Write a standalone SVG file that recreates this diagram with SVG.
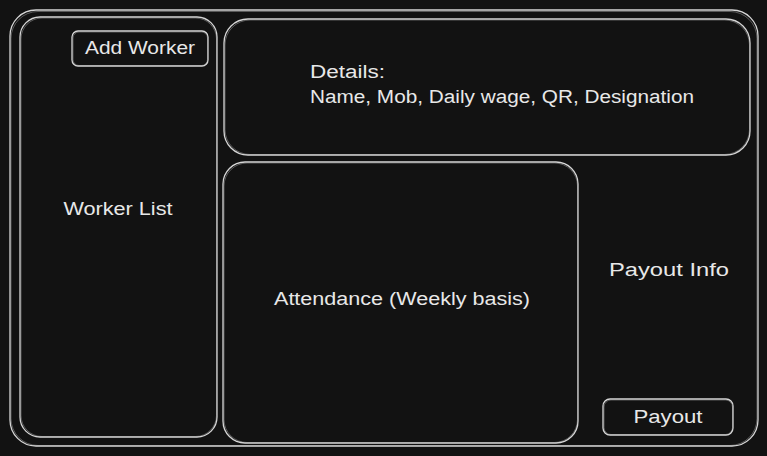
<svg xmlns="http://www.w3.org/2000/svg" width="767" height="456" viewBox="0 0 767 456">
  <style>
    .box { fill: none; stroke: #d6d6d6; stroke-width: 1.3; stroke-linejoin: round; }
    .ghost { fill: none; stroke: #bdbdbd; stroke-width: 0.7; opacity: 0.6; }
    .lbl { fill: #e8e8e8; font-family: "Liberation Sans", "DejaVu Sans", sans-serif; font-size: 18px; }
  </style>
  <rect x="0" y="0" width="767" height="456" fill="#121212"/>

  <!-- screen frame -->
  <g id="frame">
    <rect class="box" x="10" y="10" width="748" height="436" rx="26"/>
    <rect class="ghost" x="11" y="11.5" width="746" height="434" rx="27"/>
  </g>

  <!-- left column: worker list -->
  <g id="worker-list">
    <rect class="box" x="20" y="17" width="197" height="420" rx="20"/>
    <rect class="ghost" x="21" y="18" width="195.5" height="418.5" rx="21"/>
    <text class="lbl" x="118" y="215" text-anchor="middle" textLength="109" lengthAdjust="spacingAndGlyphs">Worker List</text>
  </g>

  <g id="add-worker">
    <rect class="box" x="72" y="31" width="136" height="35" rx="6"/>
    <rect class="ghost" x="73" y="32" width="134.5" height="33.5" rx="6"/>
    <text class="lbl" x="140" y="54" text-anchor="middle" textLength="110" lengthAdjust="spacingAndGlyphs">Add Worker</text>
  </g>

  <!-- worker details -->
  <g id="details">
    <rect class="box" x="224" y="19" width="526" height="136" rx="24"/>
    <rect class="ghost" x="225" y="20" width="524.5" height="134.5" rx="25"/>
    <text class="lbl" x="310" y="78" textLength="75" lengthAdjust="spacingAndGlyphs">Details:</text>
    <text class="lbl" x="310" y="103" textLength="384" lengthAdjust="spacingAndGlyphs">Name, Mob, Daily wage, QR, Designation</text>
  </g>

  <!-- attendance grid -->
  <g id="attendance">
    <rect class="box" x="223" y="162" width="355" height="281" rx="22"/>
    <rect class="ghost" x="224" y="163" width="353.5" height="279.5" rx="23"/>
    <text class="lbl" x="402" y="305" text-anchor="middle" textLength="256" lengthAdjust="spacingAndGlyphs">Attendance (Weekly basis)</text>
  </g>

  <!-- payout summary -->
  <g id="payout-info">
    <text class="lbl" x="669" y="276" text-anchor="middle" textLength="120" lengthAdjust="spacingAndGlyphs">Payout Info</text>
  </g>

  <g id="payout">
    <rect class="box" x="603" y="399" width="130" height="36" rx="7"/>
    <rect class="ghost" x="604" y="400" width="128.5" height="34.5" rx="7"/>
    <text class="lbl" x="668" y="423" text-anchor="middle" textLength="69" lengthAdjust="spacingAndGlyphs">Payout</text>
  </g>

  <g id="connectors"></g>
</svg>
